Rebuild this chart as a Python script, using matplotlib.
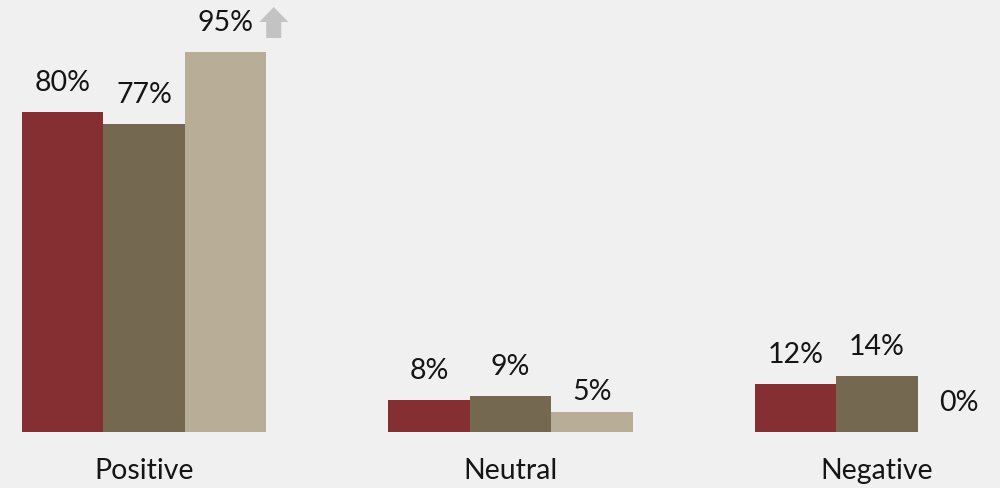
"""Grouped sentiment bars with value labels, flat light background."""
import matplotlib
matplotlib.use("Agg")
import matplotlib.pyplot as plt
import matplotlib.patches as mpatches
import numpy as np

categories = ["Positive", "Neutral", "Negative"]
series_a = [80, 8, 12]
series_b = [77, 9, 14]
series_c = [95, 5, 0]
labels_a = ["80%", "8%", "12%"]
labels_b = ["77%", "9%", "14%"]
labels_c = ["95%", "5%", "0%"]

COLORS = ["#862F33", "#746851", "#B8AD96"]
BG = "#F0F0F0"
plt.rcParams["font.family"] = ["Lato", "DejaVu Sans"]

fig = plt.figure(figsize=(10, 4.88), dpi=100, facecolor=BG)
ax = fig.add_axes([0, 0, 1, 1], facecolor=BG)

# pixel geometry: group spacing 366.5 px, bar 81.5 px, 4 px per percent
GROUP_PX, BAR_PX, PX_PER_PCT = 366.5, 81.5, 4.0
w = BAR_PX / GROUP_PX
x = np.arange(len(categories))
ax.set_xlim(-144 / GROUP_PX, (1000 - 144) / GROUP_PX)
ax.set_ylim(-(488 - 432) / PX_PER_PCT, 432 / PX_PER_PCT)

all_series = [series_a, series_b, series_c]
all_labels = [labels_a, labels_b, labels_c]
for i, (vals, labs) in enumerate(zip(all_series, all_labels)):
    xs = x + (i - 1) * w
    ax.bar(xs, vals, width=w, color=COLORS[i], linewidth=0, zorder=2)
    for bx, v, lab in zip(xs, vals, labs):
        off = 20 if lab == "5%" else 29
        ax.annotate(lab, (bx, v), xytext=(0, off), textcoords="offset pixels",
                    ha="center", va="center", fontsize=20.5, color="#151515")

# gray up-arrow next to the 95% label
ax_right = x[0] + 1.5 * w
top = series_c[0]
pts_px = [(-9, 0), (6, 0), (6, 16), (13, 16), (-1.5, 31), (-16, 16), (-9, 16)]
poly = [(ax_right + (px + 9) / GROUP_PX, top + (py + 14) / PX_PER_PCT) for px, py in pts_px]
ax.add_patch(mpatches.Polygon(poly, closed=True, facecolor="#C3C3C3",
                              edgecolor="none", zorder=3))

for cx, cat in zip(x, categories):
    ax.annotate(cat, (cx, 0), xytext=(0, -39), textcoords="offset pixels",
                ha="center", va="center", fontsize=20.5, color="#151515")

ax.set_axis_off()
fig.savefig("out.png", dpi=100, facecolor=BG)
